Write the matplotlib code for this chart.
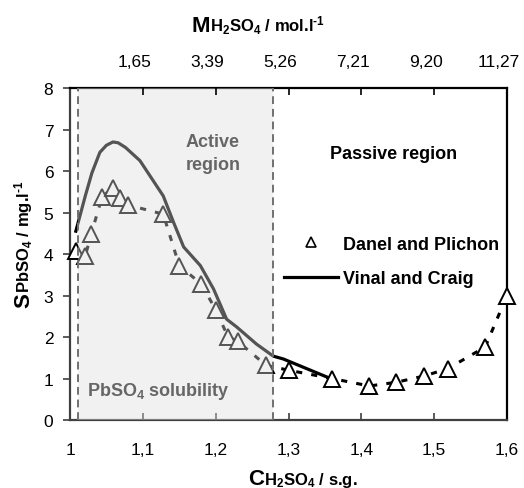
import numpy as np
import matplotlib
matplotlib.use("Agg")
import matplotlib.pyplot as plt
from matplotlib.patches import Rectangle
from matplotlib.lines import Line2D
from matplotlib.transforms import ScaledTranslation

plt.rcParams['font.family'] = ['Liberation Sans', 'DejaVu Sans']
plt.rcParams['mathtext.fontset'] = 'custom'
plt.rcParams['mathtext.rm'] = 'Liberation Sans:bold'
plt.rcParams['mathtext.it'] = 'Liberation Sans:bold:italic'
plt.rcParams['mathtext.bf'] = 'Liberation Sans:bold'

# Danel and Plichon (triangles)
dp_sg = [1.008, 1.021, 1.029, 1.044, 1.059, 1.068, 1.080, 1.128, 1.150, 1.180,
         1.200, 1.217, 1.230, 1.269, 1.300, 1.360, 1.411, 1.448, 1.486, 1.519,
         1.570, 1.600]
dp_s = [4.07, 3.95, 4.48, 5.37, 5.60, 5.35, 5.18, 4.96, 3.72, 3.28,
        2.66, 2.00, 1.90, 1.32, 1.20, 1.00, 0.82, 0.91, 1.06, 1.24,
        1.76, 3.00]

# Vinal and Craig (solid line)
vc_sg = [1.008, 1.021, 1.030, 1.041, 1.050, 1.059, 1.066, 1.076, 1.096, 1.128,
         1.142, 1.156, 1.179, 1.197, 1.215, 1.229, 1.256, 1.279, 1.293, 1.355]
vc_s = [4.55, 5.40, 5.95, 6.45, 6.62, 6.70, 6.68, 6.57, 6.25, 5.40,
        4.77, 4.17, 3.72, 3.16, 2.43, 2.24, 1.83, 1.54, 1.47, 1.02]

# top axis: molarity at given s.g.
top_ticks = [1.1, 1.2, 1.3, 1.4, 1.5, 1.6]
top_labels = ['1,65', '3,39', '5,26', '7,21', '9,20', '11,27']
bottom_ticks = [1.0, 1.1, 1.2, 1.3, 1.4, 1.5, 1.6]
bottom_labels = ['1', '1,1', '1,2', '1,3', '1,4', '1,5', '1,6']

active_lo, active_hi = 1.011, 1.279

fig = plt.figure(figsize=(5.24, 4.89), dpi=100)
ax = fig.add_axes([0.1336, 0.139, 0.834, 0.679])

ax.plot(dp_sg, dp_s, color='black', lw=2.2, linestyle=(0, (2, 3)), zorder=2)
ax.plot(vc_sg, vc_s, color='black', lw=2.3, zorder=3)
ax.plot(dp_sg, dp_s, linestyle='none', marker='^', ms=12, mfc='white',
        mec='black', mew=1.4, zorder=4, clip_on=False)

# shaded active region, drawn over the data so lines/markers look grey
ax.add_patch(Rectangle((active_lo, 0), active_hi - active_lo, 8,
                       facecolor='#dddddd', alpha=0.385, edgecolor='none', zorder=6))
for xv in (active_lo, active_hi):
    ax.axvline(xv, color='#707070', lw=1.4, linestyle=(0, (4, 2.5)), zorder=10)

ax.set_xlim(1.0, 1.6)
ax.set_ylim(0, 8)
ax.set_xticks(bottom_ticks)
ax.set_xticklabels(bottom_labels)
ax.set_yticks(range(0, 9))
ax.tick_params(axis='x', direction='in', length=5, width=1.2, pad=16,
               labelsize=12.5, colors='#404040', labelcolor='black')
ax.tick_params(axis='y', direction='out', length=5, width=1.2, pad=7,
               labelsize=12.5, colors='#404040', labelcolor='black')
for s in ('left', 'bottom'):
    ax.spines[s].set_color('#404040')
    ax.spines[s].set_linewidth(1.6)
for s in ('right', 'top'):
    ax.spines[s].set_color('black')
    ax.spines[s].set_linewidth(1.6)

ax2 = ax.twiny()
ax2.set_xlim(1.0, 1.6)
ax2.set_xticks(top_ticks)
ax2.set_xticklabels(top_labels)
ax2.tick_params(axis='x', direction='in', length=5, width=1.2, pad=14,
                labelsize=12.5)
for lbl in ax2.get_xticklabels():
    lbl.set_transform(lbl.get_transform() + ScaledTranslation(-0.08, 0, fig.dpi_scale_trans))
for s in ax2.spines.values():
    s.set_visible(False)

# region annotations
ax.text(1.196, 6.43, 'Active\nregion', ha='center', va='center', fontsize=13,
        fontweight='bold', color='#666666', linespacing=1.45, zorder=7)
ax.text(1.444, 6.43, 'Passive region', ha='center', va='center', fontsize=13,
        fontweight='bold', color='black', zorder=7)
ax.text(1.023, 0.7, 'PbSO$_4$ solubility', ha='left', va='center', fontsize=13,
        fontweight='bold', color='#666666', zorder=7)

handles = [Line2D([], [], linestyle='none', marker='^', ms=7, mfc='white',
                  mec='black', mew=1.2),
           Line2D([], [], color='black', lw=2.3)]
ax.legend(handles, ['Danel and Plichon', 'Vinal and Craig'], loc='upper left',
          bbox_to_anchor=(0.49, 0.555), frameon=False, handlelength=3.0,
          handletextpad=0.25, labelspacing=0.95, borderpad=0, borderaxespad=0,
          prop={'weight': 'bold', 'size': 13})


def two_part_label(x, y, big, small, rotation=0):
    # big letter followed by smaller text on the same baseline (figure pixels)
    fig.canvas.draw()
    r = fig.canvas.get_renderer()
    t1 = fig.text(0, 0, big, fontsize=16, fontweight='bold', transform=None,
                  rotation=rotation, rotation_mode='anchor', ha='left', va='baseline')
    t2 = fig.text(0, 0, small, fontsize=12, fontweight='bold', transform=None,
                  rotation=rotation, rotation_mode='anchor', ha='left', va='baseline')
    b1 = t1.get_window_extent(r)
    b2 = t2.get_window_extent(r)
    if rotation == 0:
        w1, w2 = b1.width, b2.width
        x0 = x - (w1 + w2) / 2
        t1.set_position((x0, y))
        t2.set_position((x0 + w1, y))
    else:
        w1, w2 = b1.height, b2.height
        y0 = y - (w1 + w2) / 2
        t1.set_position((x, y0))
        t2.set_position((x, y0 + w1))


H = 489
two_part_label(303, H - 485, 'C', 'H$_2$SO$_4$ / s.g.')
two_part_label(258, H - 32, 'M', r'H$_2$SO$_4$ / mol.l$^{\text{-}1}$')
two_part_label(29, H - 244, 'S', r'PbSO$_4$ / mg.l$^{\text{-}1}$', rotation=90)

fig.savefig('out.png', dpi=100)
